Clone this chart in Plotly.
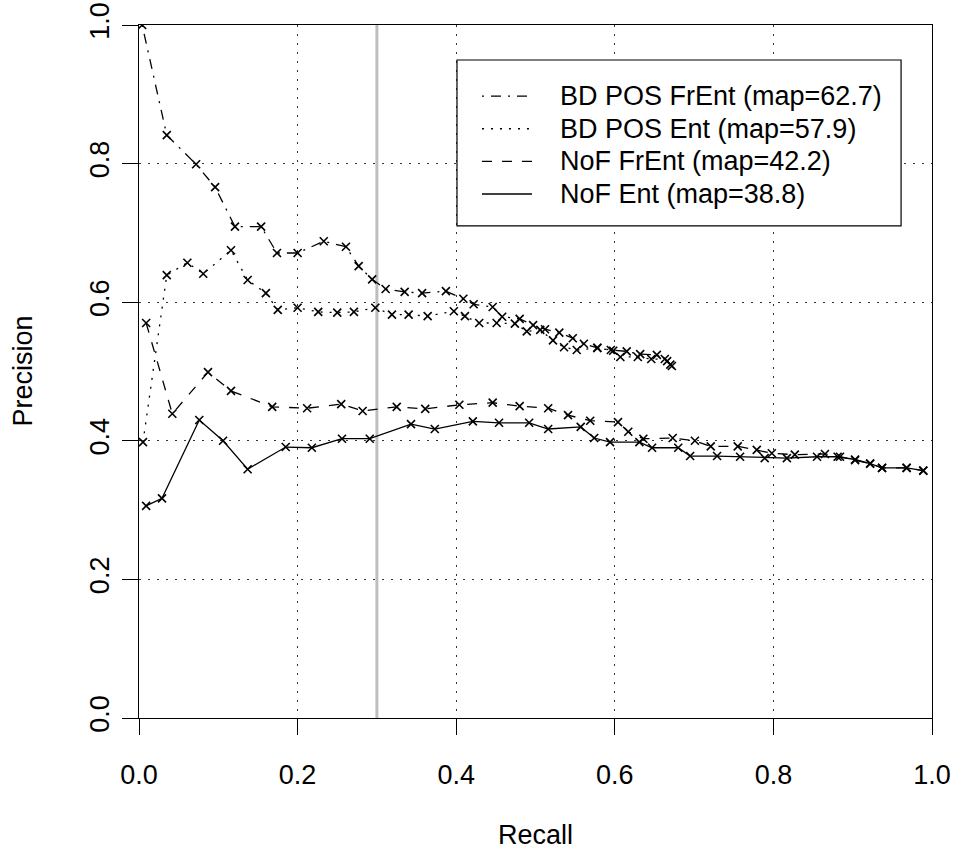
import plotly.graph_objects as go

# BD POS FrEnt (map=62.7), dot-dash
bd_frent_recall = [0.004, 0.035, 0.072, 0.096, 0.121, 0.154, 0.174, 0.200, 0.233, 0.261,
                   0.277, 0.294, 0.311, 0.335, 0.357, 0.387, 0.409, 0.422, 0.446, 0.458,
                   0.480, 0.497, 0.512, 0.530, 0.547, 0.561, 0.578, 0.595, 0.615, 0.632,
                   0.653, 0.666, 0.672]
bd_frent_prec = [1.000, 0.841, 0.799, 0.766, 0.709, 0.709, 0.671, 0.671, 0.688, 0.680,
                 0.652, 0.633, 0.619, 0.615, 0.613, 0.616, 0.605, 0.597, 0.593, 0.579,
                 0.576, 0.567, 0.561, 0.556, 0.548, 0.540, 0.534, 0.531, 0.529, 0.525,
                 0.524, 0.515, 0.508]

# BD POS Ent (map=57.9), dotted
bd_ent_recall = [0.005, 0.035, 0.061, 0.081, 0.116, 0.137, 0.160, 0.175, 0.200, 0.226,
                 0.250, 0.271, 0.298, 0.319, 0.340, 0.364, 0.397, 0.411, 0.429, 0.451,
                 0.474, 0.489, 0.506, 0.522, 0.536, 0.552, 0.578, 0.598, 0.607, 0.629,
                 0.646, 0.663, 0.670]
bd_ent_prec = [0.398, 0.639, 0.657, 0.641, 0.675, 0.632, 0.613, 0.589, 0.592, 0.586,
               0.585, 0.586, 0.592, 0.582, 0.582, 0.580, 0.587, 0.580, 0.570, 0.570,
               0.569, 0.558, 0.560, 0.545, 0.535, 0.531, 0.534, 0.530, 0.521, 0.521,
               0.518, 0.518, 0.510]

# NoF FrEnt (map=42.2), dashed
nof_frent_recall = [0.009, 0.042, 0.087, 0.116, 0.168, 0.212, 0.255, 0.282, 0.325, 0.361,
                    0.404, 0.446, 0.480, 0.516, 0.541, 0.569, 0.604, 0.617, 0.636, 0.673,
                    0.701, 0.721, 0.755, 0.779, 0.798, 0.827, 0.865, 0.884, 0.903, 0.922,
                    0.937, 0.968, 0.989]
nof_frent_prec = [0.570, 0.439, 0.499, 0.472, 0.449, 0.447, 0.453, 0.443, 0.449, 0.446,
                  0.452, 0.455, 0.450, 0.447, 0.437, 0.429, 0.427, 0.413, 0.403, 0.404,
                  0.400, 0.392, 0.392, 0.387, 0.382, 0.380, 0.381, 0.377, 0.372, 0.367,
                  0.361, 0.361, 0.357]

# NoF Ent (map=38.8), solid
nof_ent_recall = [0.009, 0.029, 0.076, 0.106, 0.137, 0.185, 0.218, 0.256, 0.291, 0.343,
                  0.373, 0.421, 0.454, 0.492, 0.516, 0.557, 0.574, 0.594, 0.631, 0.647,
                  0.680, 0.695, 0.729, 0.758, 0.789, 0.817, 0.855, 0.881, 0.903, 0.922,
                  0.937, 0.968, 0.989]
nof_ent_prec = [0.306, 0.317, 0.430, 0.400, 0.359, 0.391, 0.390, 0.403, 0.403, 0.424,
                0.417, 0.428, 0.426, 0.426, 0.417, 0.420, 0.404, 0.398, 0.398, 0.390,
                0.390, 0.378, 0.378, 0.377, 0.375, 0.375, 0.377, 0.377, 0.373, 0.367,
                0.361, 0.361, 0.357]

labels = ["BD POS FrEnt (map=62.7)", "BD POS Ent (map=57.9)",
          "NoF FrEnt (map=42.2)", "NoF Ent (map=38.8)"]
ticks = [0.0, 0.2, 0.4, 0.6, 0.8, 1.0]
cutoff = 0.3

# R style line types
DOTDASH = "2px,7px,10px,7px"
DOTTED = "2px,7px"
DASHED = "10px,10px"
dashes = [DOTDASH, DOTTED, DASHED, "solid"]

series = [(bd_frent_recall, bd_frent_prec), (bd_ent_recall, bd_ent_prec),
          (nof_frent_recall, nof_frent_prec), (nof_ent_recall, nof_ent_prec)]

FONT = "Liberation Sans, Arial, sans-serif"
FS = 27

fig = go.Figure()

for (xs, ys), name, dash in zip(series, labels, dashes):
    fig.add_trace(go.Scatter(
        x=xs, y=ys, name=name, mode="lines+markers",
        line=dict(color="black", width=1.3, dash=dash),
        marker=dict(symbol="x-thin", size=8, line=dict(color="black", width=1.6)),
        showlegend=False,
    ))

# grey cutoff line
fig.add_shape(type="line", xref="x", yref="paper", x0=cutoff, x1=cutoff, y0=0, y1=1,
              line=dict(color="#BEBEBE", width=3), layer="below")

# legend box drawn R-style
lx0, lx1, ly0, ly1 = 0.401, 0.961, 0.710, 0.9495
fig.add_shape(type="rect", xref="paper", yref="paper", x0=lx0, x1=lx1, y0=ly0, y1=ly1,
              line=dict(color="black", width=1.2), fillcolor="white")
row_y = [0.8975, 0.8503, 0.8032, 0.7561]
for name, dash, ry in zip(labels, dashes, row_y):
    fig.add_shape(type="line", xref="paper", yref="paper", x0=0.4325, x1=0.4956,
                  y0=ry, y1=ry, line=dict(color="black", width=1.3, dash=dash))
    fig.add_annotation(xref="paper", yref="paper", x=0.5284, y=ry, text=name,
                       showarrow=False, xanchor="left", yanchor="middle",
                       font=dict(size=FS, color="black", family=FONT))

fig.add_annotation(xref="paper", yref="paper", x=0.5, y=-0.169, text="Recall",
                   showarrow=False, xanchor="center", yanchor="middle",
                   font=dict(size=FS, color="black", family=FONT))
fig.add_annotation(xref="paper", yref="paper", x=-0.1475, y=0.5, text="Precision",
                   showarrow=False, xanchor="center", yanchor="middle", textangle=-90,
                   font=dict(size=FS, color="black", family=FONT))

axis_common = dict(
    range=[0, 1], tickvals=ticks, ticktext=["%.1f" % t for t in ticks],
    showline=True, linecolor="black", linewidth=1.3, mirror=True,
    ticks="outside", ticklen=16, tickwidth=1.3, tickcolor="black",
    showgrid=True, gridcolor="#333333", gridwidth=1, griddash=DOTTED,
    zeroline=False, automargin=False,
    tickfont=dict(size=FS, color="black", family=FONT),
)

fig.update_xaxes(**axis_common, ticklabelstandoff=16)
fig.update_yaxes(**axis_common, tickangle=-90, ticklabelstandoff=2)

fig.update_layout(
    width=955, height=852,
    margin=dict(l=139, r=23, t=25, b=134),
    paper_bgcolor="white", plot_bgcolor="white",
    font=dict(family=FONT, color="black"),
)

# drop the browser's default 8px body margin so the figure sits at the page corner
fig.write_html("out.html", config={"displayModeBar": False},
               post_script="document.body.style.margin='0';")
